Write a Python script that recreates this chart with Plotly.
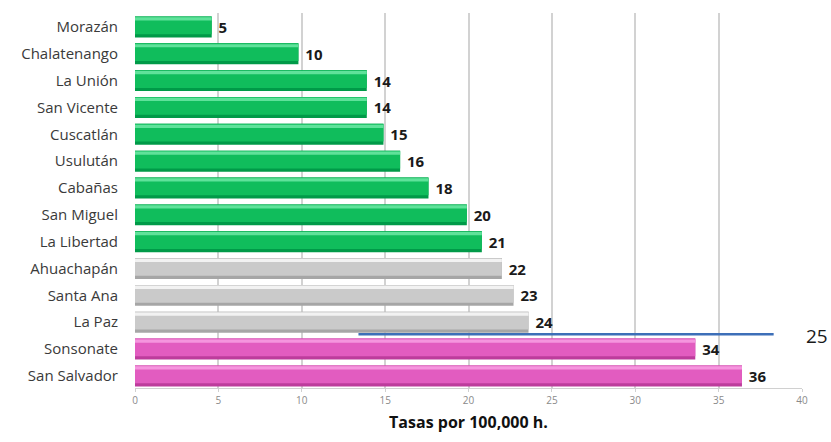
import plotly.graph_objects as go

departments = ["Morazán", "Chalatenango", "La Unión", "San Vicente", "Cuscatlán", "Usulután",
               "Cabañas", "San Miguel", "La Libertad", "Ahuachapán", "Santa Ana", "La Paz",
               "Sonsonate", "San Salvador"]
rates = [4.6, 9.8, 13.9, 13.9, 14.9, 15.9, 17.6, 19.9, 20.8, 22.0, 22.7, 23.6, 33.6, 36.4]
groups = ["low"] * 9 + ["mid"] * 3 + ["high"] * 2

ref_line_x = [13.4, 38.3]
ref_line_pos = 11.45
ref_label = "25"
x_ticks = [0, 5, 10, 15, 20, 25, 30, 35, 40]
x_title = "Tasas por 100,000 h."

palette = {
    "low": {"dark": "#009a48", "main": "#10bd5c", "light": "#5fe29a"},
    "mid": {"dark": "#a6a6a6", "main": "#cacaca", "light": "#f2f2f2"},
    "high": {"dark": "#bd3c9c", "main": "#e25cc0", "light": "#f595de"},
}

FONT = "Open Sans, Lato, sans-serif"
ypos = list(range(len(departments)))
fig = go.Figure()

# base (darker edge) layer with labels
fig.add_trace(go.Bar(
    x=rates, y=ypos, orientation="h",
    width=0.78, offset=-0.39,
    marker=dict(color=[palette[g]["dark"] for g in groups], line=dict(width=0)),
    text=[f"<b> {round(v + 1e-9):d}</b>" for v in rates],
    textposition="outside", cliponaxis=False,
    textfont=dict(family=FONT, size=15, color="#1a1a1a"),
    hoverinfo="skip", showlegend=False,
))
# main body
fig.add_trace(go.Bar(
    x=rates, y=ypos, orientation="h",
    width=0.66, offset=-0.39,
    marker=dict(color=[palette[g]["main"] for g in groups], line=dict(width=0)),
    hoverinfo="skip", showlegend=False,
))
# top highlight
fig.add_trace(go.Bar(
    x=rates, y=ypos, orientation="h",
    width=0.12, offset=-0.36,
    marker=dict(color=[palette[g]["light"] for g in groups], line=dict(width=0)),
    hoverinfo="skip", showlegend=False,
))

# reference line
fig.add_trace(go.Scatter(
    x=ref_line_x, y=[ref_line_pos, ref_line_pos], mode="lines",
    line=dict(color="#3d6fb8", width=2.5), hoverinfo="skip", showlegend=False,
    cliponaxis=False,
))

fig.update_layout(
    width=831, height=442,
    margin=dict(l=135, r=29, t=13, b=54),
    plot_bgcolor="white", paper_bgcolor="white",
    barmode="overlay", bargap=0.2,
    xaxis=dict(range=[0, 40], tickvals=x_ticks, ticktext=[str(t) for t in x_ticks],
               showgrid=True, gridcolor="#d2d2d2", gridwidth=1.5,
               zeroline=False, showline=True, linecolor="#d0d0d0", mirror=False,
               ticks="outside", ticklen=3, tickcolor="#d0d0d0",
               tickfont=dict(family=FONT, size=10, color="#8a8a8a"),
               title=dict(text=f"<b>{x_title}</b>", standoff=10,
                          font=dict(family=FONT, size=16, color="#111"))),
    yaxis=dict(range=[13.45, -0.52], tickvals=ypos, ticktext=departments,
               showgrid=False, zeroline=False, showline=False, ticks="",
               ticklabelstandoff=16,
               tickfont=dict(family=FONT, size=15, color="#3a3a3a")),
    annotations=[
        dict(text=ref_label, xref="paper", yref="y",
             x=1.003, y=ref_line_pos + 0.05, xanchor="left", yanchor="middle", showarrow=False,
             font=dict(family=FONT, size=19, color="#1a1a1a")),
    ],
)

fig.write_html("out.html")
